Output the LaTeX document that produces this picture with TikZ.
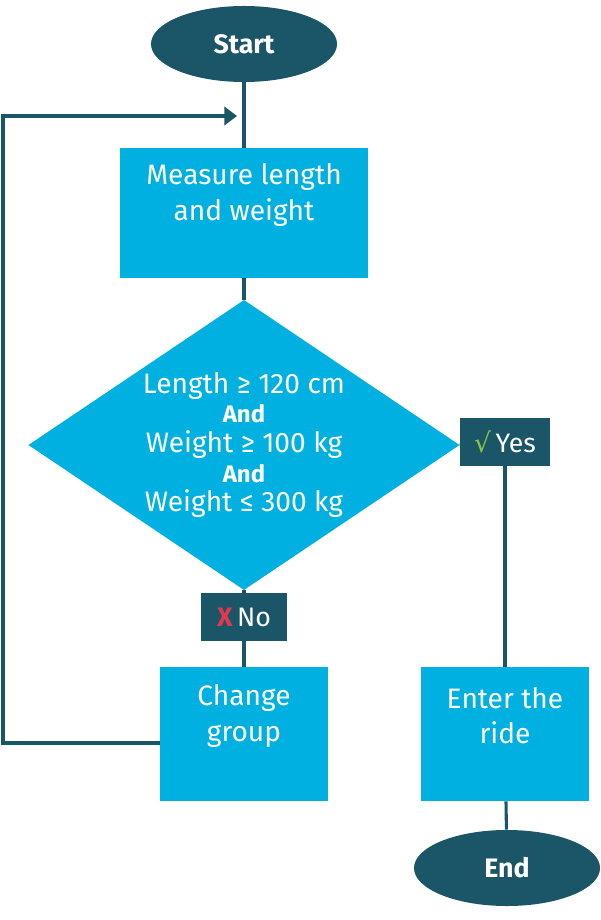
\documentclass[tikz,border=0pt]{standalone}
\usepackage{fontspec}
\setmainfont{Fira Sans}
\newfontfamily\symfont{DejaVu Sans}
\usetikzlibrary{shapes.geometric,arrows.meta}
\definecolor{darkteal}{HTML}{1A5667}
\definecolor{skyblue}{HTML}{00B0E0}
\definecolor{yesgreen}{HTML}{8CC63F}
\definecolor{nored}{HTML}{E8364F}

\begin{document}
\begin{tikzpicture}[x=0.025cm, y=-0.025cm,
    terminal/.style={ellipse, draw=none, fill=darkteal, text=white,
        font=\fontsize{19}{22}\selectfont\bfseries, minimum width=4.65cm, minimum height=1.9cm},
    process/.style={rectangle, draw=none, fill=skyblue, minimum width=4.2cm, minimum height=3.35cm},
    boxtext/.style={text=white, align=center, font=\fontsize{20}{25}\selectfont, yshift=0.45cm},
    decision/.style={diamond, draw=none, fill=skyblue, minimum width=10.78cm, minimum height=7.25cm, inner sep=0pt},
    condtext/.style={text=white, align=center, font=\fontsize{20}{20}\selectfont},
    answer/.style={rectangle, draw=none, fill=darkteal, text=white,
        font=\fontsize{19}{22}\selectfont, minimum width=2.25cm, minimum height=1.2cm},
    flow/.style={draw=darkteal, line width=2.2pt}
]
\useasboundingbox (0,0) rectangle (600,920);
\node (Start) [terminal] at (244,44) {Start};
\node (Measure) [process, minimum width=6.2cm, minimum height=3.25cm,
    label={[boxtext]center:Measure length\\and weight}] at (244,213) {};
\node (Check) [decision, label={[condtext]center:Length ≥ 120 cm\\[1pt]{\fontsize{17}{17}\selectfont\bfseries And}\\[1pt]Weight ≥ 100 kg\\[1pt]{\fontsize{17}{17}\selectfont\bfseries And}\\[1pt]Weight ≤ 300 kg}] at (244,445) {};
\node (Yes) [answer] at (505,442) {{\symfont\color{yesgreen}√}\,Yes};
\node (No) [answer, minimum width=2.15cm] at (244,617) {{\color{nored}\bfseries X}\,No};
\node (Change) [process, label={[boxtext]center:Change\\group}] at (244,734) {};
\node (Enter) [process, label={[boxtext]center:Enter the\\ride}] at (505,734) {};
\node (End) [terminal] at (507,868) {End};
\coordinate (loopTop) at (3,116);
\coordinate (loopIn) at (237,116);
\coordinate (loopBottom) at (3,743);

\draw [flow] (Start) -- (Measure);
\draw [flow] (Measure) -- (Check.north);
\draw [flow] (Check.east) -- (Yes);
\draw [flow] (Yes) -- (Enter);
\draw [flow] (Enter) -- (End);
\draw [flow] (Check.south) -- (No);
\draw [flow] (No) -- (Change);
\draw [flow, -{Triangle[length=9pt,width=13pt]}] (Change.west |- loopBottom) -- (loopBottom) -- (loopTop) -- (loopIn);
\end{tikzpicture}
\end{document}
